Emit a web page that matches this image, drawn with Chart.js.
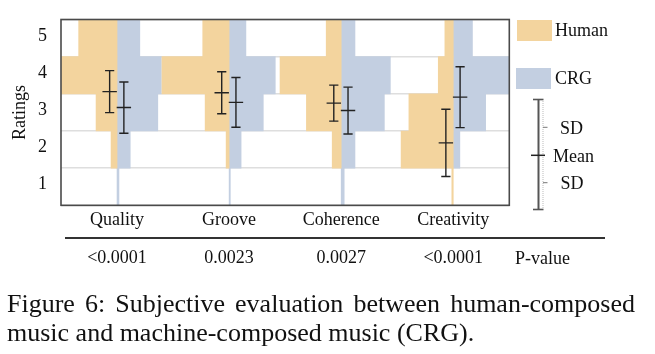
<!DOCTYPE html>
<html>
<head>
<meta charset="utf-8">
<script src="https://cdn.jsdelivr.net/npm/chart.js@4/dist/chart.umd.min.js"></script>
<style>
html,body{margin:0;padding:0;background:#fff;}
body{width:655px;height:354px;position:relative;overflow:hidden;font-family:"Liberation Serif","Times New Roman",serif;color:#111;}
#wrap{position:absolute;left:0;top:0;width:655px;height:280px;}
.t{position:absolute;font-size:18px;line-height:20px;white-space:nowrap;}
.sw{position:absolute;width:35px;height:21px;}
#rule{position:absolute;left:65px;top:237px;width:540px;height:1.5px;background:#333;}
#cap{position:absolute;left:7px;top:288.7px;width:628px;font-size:26px;line-height:29px;text-align:justify;text-align-last:left;}
svg{position:absolute;left:0;top:0;}
</style>
</head>
<body>
<div id="wrap"><canvas id="c" width="655" height="280"></canvas></div>

<div class="sw" style="left:517px;top:20px;background:#F3D49E"></div>
<div class="t" style="left:555px;top:20px">Human</div>
<div class="sw" style="left:516px;top:68px;background:#C3CFE1"></div>
<div class="t" style="left:555px;top:68px">CRG</div>
<svg width="655" height="354">
  <line x1="538.5" y1="99.5" x2="538.5" y2="209.5" stroke="#555" stroke-width="2"/>
  <line x1="533" y1="99.5" x2="543.5" y2="99.5" stroke="#555" stroke-width="1.6"/>
  <line x1="533" y1="209.5" x2="543.5" y2="209.5" stroke="#555" stroke-width="1.6"/>
  <line x1="543" y1="101" x2="543" y2="208.5" stroke="#bbb" stroke-width="1" stroke-dasharray="1,1"/>
  <line x1="543" y1="127.3" x2="547.5" y2="127.3" stroke="#777" stroke-width="1"/>
  <line x1="543" y1="182.7" x2="547.5" y2="182.7" stroke="#777" stroke-width="1"/>
  <line x1="531" y1="155.3" x2="545" y2="155.3" stroke="#222" stroke-width="1.5"/>
</svg>
<div class="t" style="left:560px;top:118px">SD</div>
<div class="t" style="left:553px;top:145.6px">Mean</div>
<div class="t" style="left:560.5px;top:173.3px">SD</div>

<div id="rule"></div>
<div class="t" style="left:515px;top:248px">P-value</div>
<div id="cap">Figure 6: Subjective evaluation between human-composed music and machine-composed music (CRG).</div>

<script>
// ---- data ----
const categories = ['Quality', 'Groove', 'Coherence', 'Creativity'];
const pValues = ['<0.0001', '0.0023', '0.0027', '<0.0001'];
const ratings = [5, 4, 3, 2, 1];
// share of ratings (%) for ratings 5,4,3,2,1
const humanQuality    = [32, 47, 17.5, 5, 0];
const humanGroove     = [22, 56, 20, 2.5, 0];
const humanCoherence  = [12.5, 51, 29, 7.5, 0];
const humanCreativity = [7, 12.5, 37, 43.5, 1.2];
const crgQuality      = [19, 37, 34, 11, 1.6];
const crgGroove       = [14, 38.5, 28.5, 10, 1];
const crgCoherence    = [11.5, 41, 36, 11.5, 2.5];
const crgCreativity   = [16, 48, 27, 5.5, 0];
const humanMean = [3.56, 3.53, 3.25, 2.18];
const humanSD   = [0.565, 0.565, 0.485, 0.905];
const crgMean   = [3.13, 3.27, 3.05, 3.41];
const crgSD     = [0.69, 0.67, 0.63, 0.82];

const humanShares = [humanQuality, humanGroove, humanCoherence, humanCreativity];
const crgShares = [crgQuality, crgGroove, crgCoherence, crgCreativity];

// ---- styling constants ----
const HUMAN_COLOR = '#F3D49E';
const CRG_COLOR = '#C3CFE1';
const ERR_COLOR = '#222';
const shareScale = 0.0107;       // category widths per percentage point
const errOffset = { human: -0.066, crg: 0.061 };
const FONT = '"Liberation Serif", "Times New Roman", serif';

function barPoints(shares, side) {
  const pts = [];
  shares.forEach((arr, c) => {
    arr.forEach((v, k) => {
      if (v <= 0) return;
      const w = v * shareScale;
      pts.push({ y: ratings[k], x: side < 0 ? [c - w, c] : [c, c + w] });
    });
  });
  return pts;
}

const datasets = [];
function addErrorBars(means, sds, off) {
  means.forEach((m, c) => {
    const x = c + off, lo = m - sds[c], hi = m + sds[c];
    datasets.push({ type: 'line', order: 0, data: [{ x, y: lo }, { x, y: hi }],
      borderColor: ERR_COLOR, borderWidth: 1.4, pointRadius: 0, fill: false });
    datasets.push({ type: 'line', order: 0, showLine: false, data: [{ x, y: lo }, { x, y: hi }],
      pointStyle: 'line', pointRadius: 4.6, pointBorderColor: ERR_COLOR, pointBorderWidth: 1.4 });
    datasets.push({ type: 'line', order: 0, showLine: false, data: [{ x, y: m }],
      pointStyle: 'line', pointRadius: 7.2, pointBorderColor: ERR_COLOR, pointBorderWidth: 1.4 });
  });
}
addErrorBars(humanMean, humanSD, errOffset.human);
addErrorBars(crgMean, crgSD, errOffset.crg);

datasets.push({ type: 'bar', label: 'Human', order: 1, grouped: false, clip: 0,
  data: barPoints(humanShares, -1), backgroundColor: HUMAN_COLOR, borderWidth: 0,
  barPercentage: 1, categoryPercentage: 1 });
datasets.push({ type: 'bar', label: 'CRG', order: 1, grouped: false, clip: 0,
  data: barPoints(crgShares, 1), backgroundColor: CRG_COLOR, borderWidth: 0,
  barPercentage: 1, categoryPercentage: 1 });

const framePlugin = {
  id: 'frame',
  afterDatasetsDraw(chart) {
    const { ctx, chartArea: a } = chart;
    ctx.save();
    ctx.strokeStyle = '#4a4a4a';
    ctx.lineWidth = 1.6;
    ctx.strokeRect(a.left, a.top, a.right - a.left, a.bottom - a.top);
    ctx.restore();
  }
};

const catTicks = (scale) => { scale.ticks = categories.map((_, i) => ({ value: i })); };

Chart.defaults.font.family = FONT;
Chart.defaults.color = '#111';

new Chart(document.getElementById('c'), {
  type: 'bar',
  data: { datasets },
  options: {
    indexAxis: 'y',
    responsive: false,
    animation: false,
    devicePixelRatio: 1,
    events: [],
    layout: { padding: { left: 0, top: 19.5, right: 145.7, bottom: 9.7 } },
    plugins: { legend: { display: false }, tooltip: { enabled: false } },
    scales: {
      x: {
        type: 'linear', position: 'bottom', min: -0.5, max: 3.5, offset: false,
        afterBuildTicks: catTicks,
        afterFit: (s) => { s.height = 30; s.paddingLeft = 0; s.paddingRight = 0; },
        grid: { display: false, drawTicks: false, offset: false },
        border: { display: false },
        ticks: { padding: 4, font: { size: 18 }, color: '#111', autoSkip: false, maxRotation: 0,
          callback: (v) => categories[v] }
      },
      y: {
        type: 'linear', position: 'left', min: 0.5, max: 5.5, offset: false,
        afterBuildTicks: (s) => { s.ticks = ratings.slice().reverse().map(v => ({ value: v })); },
        afterFit: (s) => { s.width = 61; s.paddingTop = 0; s.paddingBottom = 0; },
        grid: { offset: true, drawTicks: false, color: '#dedede', lineWidth: 1.5 },
        border: { display: false },
        ticks: { padding: 14, labelOffset: -2, font: { size: 18 }, color: '#111', callback: (v) => String(v) },
        title: { display: true, text: 'Ratings', font: { size: 18 }, color: '#111', padding: { top: 9, bottom: 0 } }
      },
      x2: {
        type: 'linear', position: 'bottom', min: -0.5, max: 3.5, offset: false,
        afterBuildTicks: catTicks,
        afterFit: (s) => { s.height = 35; s.paddingLeft = 0; s.paddingRight = 0; },
        grid: { display: false, drawTicks: false, offset: false },
        border: { display: false },
        ticks: { padding: 12, font: { size: 18 }, color: '#111', autoSkip: false, maxRotation: 0,
          callback: (v) => pValues[v] }
      }
    }
  },
  plugins: [framePlugin]
});
</script>
</body>
</html>
